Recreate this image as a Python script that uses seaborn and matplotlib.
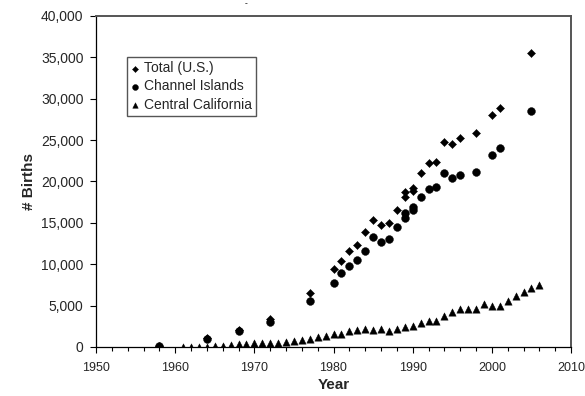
import numpy as np
import pandas as pd
import matplotlib
matplotlib.use("Agg")
import matplotlib.pyplot as plt
from matplotlib.ticker import MultipleLocator, FuncFormatter
import seaborn as sns

# ---- data ----
total_years = [1958, 1964, 1968, 1972, 1977, 1980, 1981, 1982, 1983, 1984, 1985,
               1986, 1987, 1988, 1989, 1989, 1990, 1990, 1991, 1992, 1993, 1994,
               1995, 1996, 1998, 2000, 2001, 2005]
total_births = [150, 1100, 2000, 3350, 6490, 9390, 10430, 11600, 12290, 13860, 15350,
                14740, 15020, 16560, 18770, 18090, 19180, 18900, 21000, 22200, 22390, 24810,
                24490, 25290, 25900, 28040, 28920, 35560]

ci_years = [1958, 1964, 1968, 1972, 1977, 1980, 1981, 1982, 1983, 1984, 1985,
            1986, 1987, 1988, 1989, 1989, 1990, 1990, 1991, 1992, 1993, 1994,
            1995, 1996, 1998, 2000, 2001, 2005]
ci_births = [100, 1000, 1900, 3000, 5600, 7700, 8900, 9790, 10480, 11640, 13260,
             12650, 13050, 14500, 16230, 15550, 16900, 16560, 18160, 19060, 19370, 21060,
             20390, 20790, 21110, 23200, 24010, 28520]

cc_years = [1958] + list(range(1961, 2007))
cc_births = [0,
             30, 40, 50, 60, 70, 80, 200, 320, 360, 440,
             480, 520, 520, 600, 760, 800, 930, 1170, 1370, 1620,
             1530, 1890, 2050, 2180, 2090, 2130, 1930, 2180, 2460, 2500,
             2860, 3180, 3100, 3750, 4190, 4590, 4590, 4630, 5200, 4920,
             4920, 5520, 6120, 6610, 7130, 7530]

labels = ["Total (U.S.)", "Channel Islands", "Central California"]

df_total = pd.DataFrame({"Year": total_years, "Births": total_births})
df_ci = pd.DataFrame({"Year": ci_years, "Births": ci_births})
df_cc = pd.DataFrame({"Year": cc_years, "Births": cc_births})

# ---- style ----
sns.set_style("ticks")
plt.rcParams["font.family"] = ["Liberation Sans", "DejaVu Sans"]

fig = plt.figure(figsize=(5.85, 3.96), dpi=100)
ax = fig.add_axes([96 / 585, 1 - 347 / 396, 475 / 585, 331 / 396])

sns.scatterplot(data=df_total, x="Year", y="Births", marker="D", s=17, color="black",
                edgecolor="black", linewidth=0.3, label=labels[0], ax=ax, zorder=3)
sns.scatterplot(data=df_ci, x="Year", y="Births", marker="o", s=32, color="black",
                edgecolor="black", linewidth=0.3, label=labels[1], ax=ax, zorder=3)
sns.scatterplot(data=df_cc, x="Year", y="Births", marker="^", s=28, color="black",
                edgecolor="black", linewidth=0.3, label=labels[2], ax=ax, zorder=3)

ax.set_xlim(1950, 2010)
ax.set_ylim(0, 40000)
ax.xaxis.set_major_locator(MultipleLocator(10))
ax.xaxis.set_minor_locator(MultipleLocator(2))
ax.yaxis.set_major_locator(MultipleLocator(5000))
ax.yaxis.set_major_formatter(FuncFormatter(lambda v, p: f"{int(v):,}"))

ax.tick_params(axis="x", which="major", direction="out", length=4.5, width=0.8,
               color="black", labelsize=9, pad=6)
ax.tick_params(axis="x", which="minor", direction="out", length=3, width=0.8, color="black")
ax.tick_params(axis="y", which="major", direction="out", length=4, width=0.8,
               color="black", labelsize=10, pad=5)

for side in ["left", "bottom"]:
    ax.spines[side].set_color("black")
    ax.spines[side].set_linewidth(0.9)
for side in ["top", "right"]:
    ax.spines[side].set_visible(True)
    ax.spines[side].set_color("#555555")
    ax.spines[side].set_linewidth(1.4)

ax.set_xlabel("Year", fontsize=11, fontweight="bold", labelpad=3)
ax.set_ylabel("# Births", fontsize=11, fontweight="bold", labelpad=3.5)
ax.grid(False)

leg = ax.legend(loc="upper left", bbox_to_anchor=(0.065, 0.876), borderaxespad=0,
                fancybox=False, framealpha=1, edgecolor="#555555", fontsize=10,
                handlelength=0.6, handletextpad=0.3, labelspacing=0.3,
                borderpad=0.3, markerscale=0.75)
leg.get_frame().set_linewidth(1.0)

fig.text(246 / 585, 0.999, "-", fontsize=6, fontweight="bold",
         ha="center", va="top")

fig.savefig("out.png", dpi=100)
